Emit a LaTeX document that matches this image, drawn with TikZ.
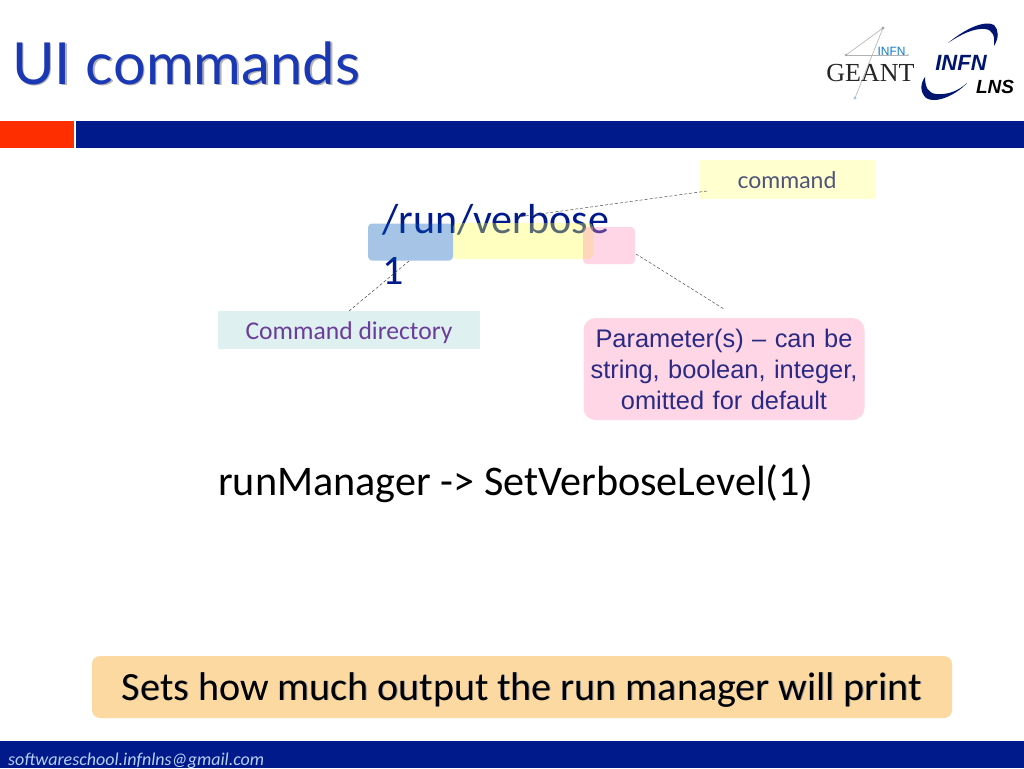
\documentclass[tikz,border=0pt]{standalone}
\usepackage{fontspec}
\setmainfont{Carlito}
\newfontfamily\arialf{Liberation Sans}
\newfontfamily\titlef{Lato}
\newfontfamily\serifl{Liberation Serif}
\definecolor{navy}{HTML}{001A8C}
\definecolor{titleblue}{HTML}{1A38B4}
\definecolor{barred}{HTML}{FF2E00}
\definecolor{dirblue}{HTML}{0057B5}
\definecolor{cmdyellow}{HTML}{FFFF4A}
\definecolor{parpink}{HTML}{FF8AB5}
\definecolor{labyellow}{HTML}{FFFFD0}
\definecolor{labpink}{HTML}{FFD6E6}
\definecolor{labteal}{HTML}{DFF0F0}
\definecolor{notefill}{HTML}{FCD9A0}
\definecolor{cmdgrey}{HTML}{4F5578}
\definecolor{dirviolet}{HTML}{6A3D9A}
\definecolor{partext}{HTML}{2A2A84}
\definecolor{mailblue}{HTML}{B8D0F0}
\tikzset{
 x=1pt,y=-1pt,
 hl/.style={rounded corners=4pt,fill opacity=.35,inner sep=0pt},
 leader/.style={draw=black!70,densely dashed,line width=.5pt},
 logo/.style={line width=.6pt,draw=gray!60}
}
\begin{document}
\begin{tikzpicture}
\useasboundingbox (0,0) rectangle (1024,768);
\fill[white] (0,0) rectangle (1024,768);
% title
\node[anchor=base west,inner sep=0pt,text=black!30,font=\titlef\fontsize{58}{60}\selectfont] (titleshadow) at (13.5,85.5) {UI commands};
\node[anchor=base west,inner sep=0pt,text=titleblue,font=\titlef\fontsize{58}{60}\selectfont] (title) at (12,84) {UI commands};
% bars
\fill[barred] (0,121) rectangle (74,148);
\fill[navy] (76,121) rectangle (1024,148);
\fill[navy] (0,741) rectangle (1024,768);
\node[anchor=base west,inner sep=0pt,text=mailblue,font=\itshape\fontsize{18}{20}\selectfont] (mail) at (8,765.5) {softwareschool.infnlns@gmail.com};
% logo geant
\coordinate (ga) at (883,28);
\coordinate (gb) at (846,55);
\coordinate (gc) at (908,55);
\coordinate (gd) at (855,98);
\draw[logo] (gb) -- (ga) -- (gd);
\draw[logo] (gb) -- (gc);
\fill[gray!70] (ga) circle (1.6pt) (gb) circle (1.4pt);
\fill[cyan!40!gray!60] (gd) circle (1.6pt) (gc) circle (1.2pt);
\node[inner sep=0pt,text=cyan!60!blue,font=\arialf\fontsize{12}{12}\selectfont] (infnsmall) at (891.5,51) {INFN};
\node[inner sep=0pt,text=black!85,font=\serifl\fontsize{26}{26}\selectfont] (geant) at (870.5,73) {GEANT};
% logo infn
\fill[navy!80!black] (948,43) .. controls (966,28) and (985,20) .. (994,25) .. controls (999,30) and (999,38) .. (994,46) .. controls (995,36) and (993,30) .. (985,29) .. controls (973,28) and (960,35) .. cycle;
\fill[navy!80!black] (967,83) .. controls (955,96) and (935,104) .. (926,98) .. controls (920,92) and (920,84) .. (925,77) .. controls (925,87) and (928,93) .. (936,94) .. controls (948,95) and (958,91) .. cycle;
\node[inner sep=0pt,text=navy!80!black,font=\arialf\bfseries\itshape\fontsize{22}{22}\selectfont] (infn) at (961,63) {INFN};
\node[inner sep=0pt,text=black,font=\arialf\bfseries\itshape\fontsize{19}{19}\selectfont] (lns) at (995,87) {LNS};
% command text (beneath the highlights)
\node[anchor=base west,inner sep=0pt,text=navy,font=\fontsize{42}{42}\selectfont] (cmd1) at (382,233) {/run/verbose};
\node[anchor=base west,inner sep=0pt,text=navy,font=\fontsize{42}{42}\selectfont] (cmd2) at (382,284) {1};
% highlights
\node[hl,fill=cmdyellow,minimum width=140pt,minimum height=36pt] (hy) at (523,241) {};
\node[hl,fill=parpink,minimum width=52pt,minimum height=37pt] (hp) at (609,245.5) {};
\node[hl,fill=dirblue,minimum width=85pt,minimum height=37pt] (hb) at (410.5,242) {};
% labels
\node[fill=labyellow,inner sep=0pt,minimum width=175pt,minimum height=39pt] (lc) at (787.5,179.5) {};
\node[inner sep=0pt,anchor=base,text=cmdgrey,font=\titlef\fontsize{23}{28}\selectfont] (lctext) at (787,188) {command};
\node[fill=labteal,inner sep=0pt,minimum width=262pt,minimum height=38pt] (ld) at (349,330) {};
\node[inner sep=0pt,anchor=base,text=dirviolet,font=\fontsize{25.6}{28}\selectfont] (ldtext) at (349,339) {Command directory};
\node[fill=labpink,rounded corners=12pt,inner sep=0pt,minimum width=281pt,minimum height=102pt] (lp) at (724,369) {};
\node[inner sep=0pt,text width=281pt,align=center,text=partext,font=\arialf\fontsize{25.4}{31}\selectfont] (lptext) at (724,369.5) {Parameter(s) – can be\\string, boolean, integer,\\omitted for default};
% leaders
\coordinate (a1) at (707,191);
\coordinate (a2) at (518,217);
\draw[leader] (a1) -- (a2);
\coordinate (b1) at (409,261);
\coordinate (b2) at (349,311);
\draw[leader] (b1) -- (b2);
\coordinate (c1) at (636,254);
\coordinate (c2) at (724,309);
\draw[leader] (c1) -- (c2);
% main line
\node[anchor=base west,inner sep=0pt,font=\fontsize{42.2}{42}\selectfont] (mgr) at (218,495.5) {runManager -> SetVerboseLevel(1)};
% note
\node[fill=notefill,rounded corners=8pt,inner sep=0pt,minimum width=860pt,minimum height=62pt] (note) at (522,687) {};
\node[anchor=base,inner sep=0pt,text=black!40,font=\fontsize{40}{40}\selectfont] (noteshadow) at (522.8,700.8) {Sets how much output the run manager will print};
\node[anchor=base,inner sep=0pt,font=\fontsize{40}{40}\selectfont] (notetext) at (522,700) {Sets how much output the run manager will print};
\end{tikzpicture}
\end{document}
